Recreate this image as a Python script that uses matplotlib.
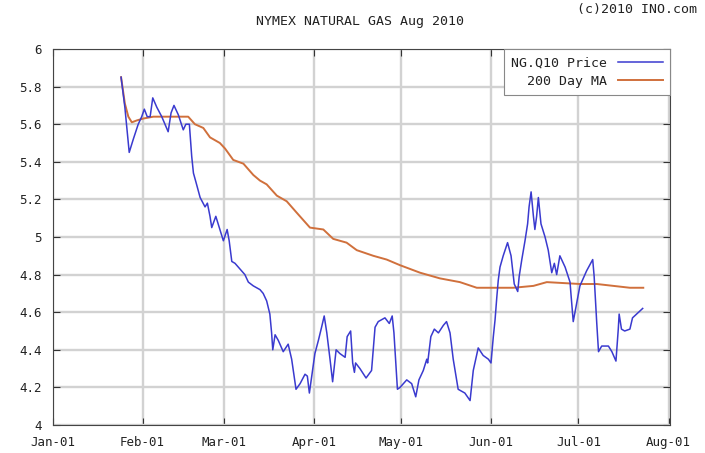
import matplotlib
matplotlib.use("Agg")
import matplotlib.pyplot as plt
import matplotlib.dates as mdates
import numpy as np
import datetime as dt

# ---- data (days since 2010-01-01, value) ----
price_days = [23.6, 24.9, 26.4, 27.8, 29.5, 30.7, 31.6, 32.6, 33.6, 34.5, 35.9, 37.6, 38.7, 39.8,
              40.8, 41.8, 43.3, 45.0, 45.9, 47.1, 47.9, 48.5, 49.4, 50.8, 52.5, 53.3, 54.2, 54.8,
              56.2, 57.6, 58.8, 60.1, 60.8, 61.7, 62.8, 64.5, 66.2, 67.4, 69.1, 71.4, 72.5, 73.7,
              74.8, 75.4, 75.8, 76.6, 77.7, 79.4, 81.1, 82.3, 83.8, 85.2, 86.9, 87.7, 88.4, 89.2,
              90.3, 91.5, 92.6, 93.5, 94.4, 95.5, 96.4, 97.6, 98.9, 100.7, 101.4, 102.6, 103.3,
              103.9, 104.3, 105.8, 107.9, 109.3, 109.8, 111.0, 112.1, 114.4, 115.9, 116.9, 117.5,
              118.2, 118.7, 119.6, 121.9, 123.6, 125.0, 126.1, 127.6, 128.8, 129.1, 130.2, 131.4,
              132.8, 134.5, 135.6, 136.8, 137.9, 139.6, 141.9, 143.7, 144.8, 146.5, 148.2, 150.0,
              150.9, 151.7, 152.3, 152.9, 153.4, 154.0, 155.1, 156.6, 157.8, 158.9, 160.1, 160.6,
              161.5, 162.6, 163.5, 164.0, 164.7, 165.5, 166.0, 166.6, 167.2, 168.1, 169.5, 170.6,
              171.8, 172.7, 173.5, 174.6, 176.4, 178.1, 178.4, 179.2, 180.4, 181.5, 183.8, 185.9,
              186.4, 187.3, 187.9, 189.0, 191.3, 192.5, 193.9, 194.7, 195.0, 195.8, 196.9, 198.7,
              199.6, 201.0, 203.1]
price_vals = [5.85, 5.69, 5.45, 5.52, 5.60, 5.64, 5.68, 5.64, 5.64, 5.74, 5.69, 5.64, 5.60, 5.56,
              5.66, 5.70, 5.65, 5.57, 5.60, 5.60, 5.43, 5.34, 5.29, 5.21, 5.16, 5.18, 5.11, 5.05,
              5.11, 5.04, 4.98, 5.04, 4.98, 4.87, 4.86, 4.83, 4.80, 4.76, 4.74, 4.72, 4.70, 4.66,
              4.59, 4.49, 4.40, 4.48, 4.45, 4.39, 4.43, 4.35, 4.19, 4.22, 4.27, 4.26, 4.17, 4.26,
              4.38, 4.45, 4.52, 4.58, 4.49, 4.35, 4.23, 4.40, 4.38, 4.36, 4.47, 4.50, 4.33,
              4.28, 4.33, 4.30, 4.25, 4.28, 4.29, 4.52, 4.55, 4.57, 4.54, 4.58, 4.49,
              4.31, 4.19, 4.20, 4.24, 4.22, 4.15, 4.24, 4.29, 4.35, 4.33, 4.47, 4.51,
              4.49, 4.53, 4.55, 4.49, 4.35, 4.19, 4.17, 4.13, 4.29, 4.41, 4.37, 4.35,
              4.33, 4.47, 4.56, 4.68, 4.77, 4.84, 4.90, 4.97, 4.90, 4.75, 4.71, 4.79,
              4.88, 4.98, 5.07, 5.16, 5.24, 5.11, 5.04, 5.11, 5.21, 5.07, 5.00, 4.93,
              4.81, 4.86, 4.80, 4.90, 4.84, 4.76, 4.70, 4.55, 4.65, 4.74, 4.82, 4.88,
              4.79, 4.54, 4.39, 4.42, 4.42, 4.39, 4.34, 4.51, 4.59, 4.51, 4.50, 4.51,
              4.57, 4.59, 4.62]

ma_days = [23.6, 24.9, 26.1, 27.3, 29.0, 31.2, 34.7, 38.1, 46.7, 49.0, 51.9, 54.2, 57.6, 59.4,
           62.2, 65.7, 69.1, 71.4, 73.7, 77.2, 80.6, 84.0, 88.6, 93.2, 96.6, 101.2, 104.7,
           110.4, 115.0, 119.6, 126.5, 133.3, 140.2, 146.0, 150.6, 158.6, 165.5, 170.1, 181.5,
           187.3, 193.0, 198.7, 203.3]
ma_vals = [5.85, 5.71, 5.64, 5.61, 5.62, 5.63, 5.64, 5.64, 5.64, 5.60, 5.58, 5.53, 5.50, 5.47,
           5.41, 5.39, 5.33, 5.30, 5.28, 5.22, 5.19, 5.13, 5.05, 5.04, 4.99, 4.97, 4.93,
           4.90, 4.88, 4.85, 4.81, 4.78, 4.76, 4.73, 4.73, 4.73, 4.74, 4.76, 4.75,
           4.75, 4.74, 4.73, 4.73]

month_labels = ["Jan-01", "Feb-01", "Mar-01", "Apr-01", "May-01", "Jun-01", "Jul-01", "Aug-01"]
y_ticks = [4, 4.2, 4.4, 4.6, 4.8, 5, 5.2, 5.4, 5.6, 5.8, 6]
y_labels = ["4", "4.2", "4.4", "4.6", "4.8", "5", "5.2", "5.4", "5.6", "5.8", "6"]

title = "NYMEX NATURAL GAS Aug 2010"
credit = "(c)2010 INO.com"
series_names = ["NG.Q10 Price", "200 Day MA"]

# ---- plot ----
FONT = "DejaVu Sans Mono"
FS = 9
base = mdates.date2num(dt.datetime(2010, 1, 1))

fig = plt.figure(figsize=(7.05, 4.53), dpi=100)
ax = fig.add_axes([52.5 / 705, 28 / 453, (670 - 52.5) / 705, (425 - 49) / 453])

px = base + np.array(price_days)
mx = base + np.array(ma_days)
ax.plot(px, price_vals, color="#3a3acf", lw=1.1, label=series_names[0], zorder=3)
ax.plot(mx, ma_vals, color="#d0703c", lw=1.4, label=series_names[1], zorder=2)

month_pos = [mdates.date2num(dt.datetime(2010, m, 1)) for m in range(1, 9)]
ax.set_xlim(month_pos[0], month_pos[-1] + 0.5)
ax.set_ylim(4, 6)
ax.set_xticks(month_pos)
ax.set_xticklabels(month_labels, fontfamily=FONT, fontsize=FS)
ax.set_yticks(y_ticks)
ax.set_yticklabels(y_labels, fontfamily=FONT, fontsize=FS)

ax.grid(True, color="#d2d2d2", lw=1.7, zorder=0)
ax.set_axisbelow(True)
ax.tick_params(direction="in", length=5, width=0.8, color="#333333",
               top=True, right=True, labelcolor="#222222")
ax.tick_params(axis="x", pad=8)
ax.tick_params(axis="y", pad=8)
for s in ax.spines.values():
    s.set_color("#444444")
    s.set_linewidth(0.8)

leg = ax.legend(loc="upper right", markerfirst=False, fancybox=False, frameon=True,
                prop={"family": FONT, "size": FS + 0.5}, handlelength=3.4,
                borderaxespad=0.0, labelspacing=0.4, handletextpad=0.8,
                borderpad=0.55)
leg.get_frame().set_edgecolor("#888888")
leg.get_frame().set_linewidth(0.8)
leg.get_frame().set_alpha(1)
for t in leg.get_texts():
    t.set_color("#222222")

fig.text(360 / 705, 1 - 22 / 453, title, ha="center", va="center",
         fontfamily=FONT, fontsize=FS + 0.5, color="#222222")
fig.text(697 / 705, 1 - 10 / 453, credit, ha="right", va="center",
         fontfamily=FONT, fontsize=FS + 0.5, color="#222222")

fig.savefig("out.png", dpi=100)
